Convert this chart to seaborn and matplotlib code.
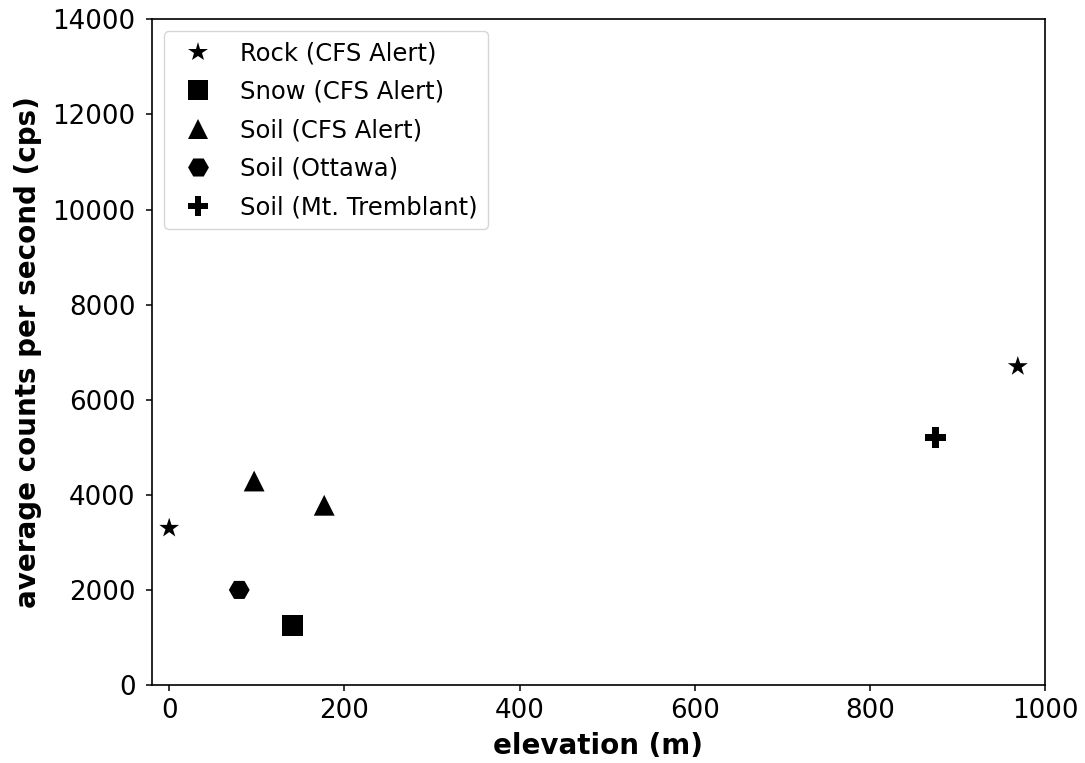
import matplotlib
matplotlib.use("Agg")
import matplotlib.pyplot as plt
import seaborn as sns
import pandas as pd

# Measurements: elevation (m) vs average counts per second (cps)
samples = [
    "Rock (CFS Alert)",
    "Rock (CFS Alert)",
    "Snow (CFS Alert)",
    "Soil (CFS Alert)",
    "Soil (CFS Alert)",
    "Soil (Ottawa)",
    "Soil (Mt. Tremblant)",
]
elevation = [0, 969, 141, 97, 177, 80, 875]
cps = [3300, 6700, 1250, 4290, 3780, 2000, 5210]

legend_order = [
    "Rock (CFS Alert)",
    "Snow (CFS Alert)",
    "Soil (CFS Alert)",
    "Soil (Ottawa)",
    "Soil (Mt. Tremblant)",
]
marker_shapes = ["*", "s", "^", "H", "P"]

x_ticks = [0, 200, 400, 600, 800, 1000]
y_ticks = [0, 2000, 4000, 6000, 8000, 10000, 12000, 14000]

df = pd.DataFrame({"sample": samples, "elevation": elevation, "cps": cps})

sns.set_style("ticks")
plt.rcParams["font.family"] = ["DejaVu Sans"]
plt.rcParams["text.color"] = "black"
plt.rcParams["axes.labelcolor"] = "black"
plt.rcParams["xtick.color"] = "black"
plt.rcParams["ytick.color"] = "black"

fig = plt.figure(figsize=(10.85, 7.63), dpi=100)
ax = fig.add_axes([0.1398, 0.1022, 0.8233, 0.8725])

sns.scatterplot(
    data=df,
    x="elevation",
    y="cps",
    style="sample",
    style_order=legend_order,
    markers=dict(zip(legend_order, marker_shapes)),
    color="black",
    edgecolor="black",
    linewidth=0,
    s=225,
    ax=ax,
    legend=False,
)

handles = [
    plt.Line2D([], [], linestyle="none", marker=m, color="black",
               markeredgewidth=0, markersize=15)
    for m in marker_shapes
]
ax.legend(handles, legend_order, loc="upper left", fontsize=17.5,
          frameon=True, framealpha=0.8, edgecolor="0.8",
          labelspacing=0.6, handletextpad=0.75)

ax.set_xlim(-20, 1000)
ax.set_ylim(0, 14000)
ax.set_xticks(x_ticks)
ax.set_yticks(y_ticks)
ax.tick_params(labelsize=18.8, length=4.5, width=1.1, colors="black")
ax.tick_params(axis="y", pad=7)
ax.tick_params(axis="x", pad=4.5)
for sp in ax.spines.values():
    sp.set_linewidth(1.2)
    sp.set_color("black")

ax.set_xlabel("elevation (m)", fontsize=20, fontweight="bold", labelpad=6)
ax.set_ylabel("average counts per second (cps)", fontsize=20,
              fontweight="bold", labelpad=7.5)

fig.savefig("out.png", dpi=100)
